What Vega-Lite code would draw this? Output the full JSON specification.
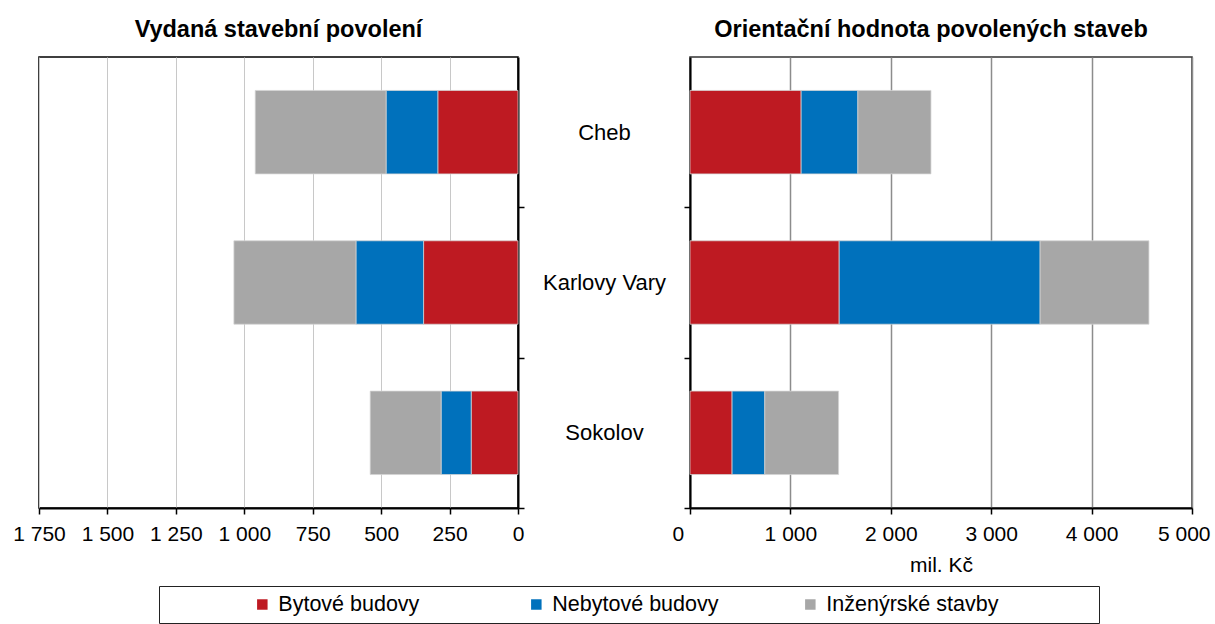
{
  "$schema": "https://vega.github.io/schema/vega-lite/v6.json",
  "padding": {"left": 11, "top": 16, "right": 0, "bottom": 0},
  "config": {
    "font": "Liberation Sans",
    "view": {"stroke": "#000", "strokeWidth": 1.5},
    "axis": {"labelFont": "Liberation Sans", "labelFontSize": 21, "labelColor": "#000", "labelOverlap": false, "labelFlush": false, "tickColor": "#000", "domainColor": "#000", "domainWidth": 2, "tickWidth": 1.5, "tickSize": 6, "titleFont": "Liberation Sans", "titleColor": "#000"},
    "title": {"font": "Liberation Sans", "fontSize": 23.5, "fontWeight": "bold", "color": "#000", "anchor": "middle"},
    "text": {"font": "Liberation Sans"}
  },
  "datasets": {
    "d": [
      {"okres": "Cheb", "typ": "Bytové budovy", "i": 1, "povoleni": 293, "hodnota": 1107},
      {"okres": "Cheb", "typ": "Nebytové budovy", "i": 2, "povoleni": 189, "hodnota": 565},
      {"okres": "Cheb", "typ": "Inženýrské stavby", "i": 3, "povoleni": 478, "hodnota": 728},
      {"okres": "Karlovy Vary", "typ": "Bytové budovy", "i": 1, "povoleni": 345, "hodnota": 1486},
      {"okres": "Karlovy Vary", "typ": "Nebytové budovy", "i": 2, "povoleni": 247, "hodnota": 2001},
      {"okres": "Karlovy Vary", "typ": "Inženýrské stavby", "i": 3, "povoleni": 446, "hodnota": 1084},
      {"okres": "Sokolov", "typ": "Bytové budovy", "i": 1, "povoleni": 171, "hodnota": 419},
      {"okres": "Sokolov", "typ": "Nebytové budovy", "i": 2, "povoleni": 110, "hodnota": 326},
      {"okres": "Sokolov", "typ": "Inženýrské stavby", "i": 3, "povoleni": 259, "hodnota": 735}
    ],
    "leg": [
      {"typ": "Bytové budovy"},
      {"typ": "Nebytové budovy"},
      {"typ": "Inženýrské stavby"}
    ]
  },
  "bounds": "full",
  "spacing": 9,
  "vconcat": [
    {
      "bounds": "flush",
      "spacing": 172,
      "hconcat": [
        {
          "width": 479,
          "height": 451,
          "title": {"text": "Vydaná stavební povolení", "offset": 16},
          "data": {"name": "d"},
          "view": {"stroke": "#000", "strokeWidth": 1.5},
          "mark": {"type": "bar", "stroke": "#d4d4d4", "strokeWidth": 0.75},
          "encoding": {
            "y": {"field": "okres", "type": "nominal", "sort": ["Cheb", "Karlovy Vary", "Sokolov"],
              "scale": {"paddingInner": 0.445, "paddingOuter": 0.2225},
              "axis": {"orient": "right", "labels": false, "title": null, "tickOffset": 75, "domainWidth": 2}},
            "x": {"field": "povoleni", "type": "quantitative", "stack": "zero",
              "scale": {"domain": [0, 1750], "reverse": true, "nice": false},
              "axis": {"values": [0, 250, 500, 750, 1000, 1250, 1500, 1750], "title": null, "grid": true, "gridColor": "#c8c8c8", "gridWidth": 1, "labelPadding": 9, "labelExpr": "replace(format(datum.value, ','), ',', ' ')"}},
            "color": {"field": "typ", "type": "nominal",
              "scale": {"domain": ["Bytové budovy", "Nebytové budovy", "Inženýrské stavby"], "range": ["#BE1A22", "#0071BC", "#A7A7A7"]},
              "legend": null},
            "order": {"field": "i", "type": "quantitative"}
          }
        },
        {
          "width": 502,
          "height": 451,
          "title": {"text": "Orientační hodnota povolených staveb", "offset": 16, "dx": -10},
          "data": {"name": "d"},
          "view": {"stroke": "#333", "strokeWidth": 1.5},
          "mark": {"type": "bar", "stroke": "#d4d4d4", "strokeWidth": 0.75},
          "encoding": {
            "y": {"field": "okres", "type": "nominal", "sort": ["Cheb", "Karlovy Vary", "Sokolov"],
              "scale": {"paddingInner": 0.445, "paddingOuter": 0.2225},
              "axis": {"orient": "left", "title": null, "labelFontSize": 22, "labelAlign": "center", "labelBaseline": "middle", "labelPadding": 80, "tickOffset": 75, "labelOffset": -75, "domainWidth": 2}},
            "x": {"field": "hodnota", "type": "quantitative", "stack": "zero",
              "scale": {"domain": [0, 5000], "nice": false},
              "axis": {"values": [0, 1000, 2000, 3000, 4000, 5000], "title": "mil. Kč", "titleFontSize": 21, "titleFontWeight": "normal", "titlePadding": 10, "grid": true, "gridColor": "#8c8c8c", "gridWidth": 1.5, "labelPadding": 9, "labelFlush": true, "labelFlushOffset": 18, "labelExpr": "replace(format(datum.value, ','), ',', ' ')"}},
            "color": {"field": "typ", "type": "nominal",
              "scale": {"domain": ["Bytové budovy", "Nebytové budovy", "Inženýrské stavby"], "range": ["#BE1A22", "#0071BC", "#A7A7A7"]},
              "legend": null},
            "order": {"field": "i", "type": "quantitative"}
          }
        }
      ]
    },
    {
      "bounds": "flush",
      "spacing": 0,
      "hconcat": [
        {
          "width": 120,
          "height": 37,
          "data": {"values": [{"a": 1}]},
          "view": {"stroke": null},
          "mark": {"type": "point", "opacity": 0},
          "encoding": {}
        },
        {
          "width": 940,
          "height": 37,
          "data": {"name": "leg"},
          "view": {"stroke": "#222", "strokeWidth": 1},
          "encoding": {
            "x": {"field": "typ", "type": "nominal", "sort": ["Bytové budovy", "Nebytové budovy", "Inženýrské stavby"],
              "scale": {"type": "point", "padding": 0.7153, "align": 0.2636}, "axis": null}
          },
          "layer": [
            {
              "mark": {"type": "square", "size": 110, "opacity": 1},
              "encoding": {
                "color": {"field": "typ", "type": "nominal",
                  "scale": {"domain": ["Bytové budovy", "Nebytové budovy", "Inženýrské stavby"], "range": ["#BE1A22", "#0071BC", "#A7A7A7"]},
                  "legend": null}
              }
            },
            {
              "mark": {"type": "text", "align": "left", "baseline": "middle", "dx": 16, "fontSize": 21.5, "color": "#000"},
              "encoding": {"text": {"field": "typ"}}
            }
          ]
        }
      ]
    }
  ]
}
